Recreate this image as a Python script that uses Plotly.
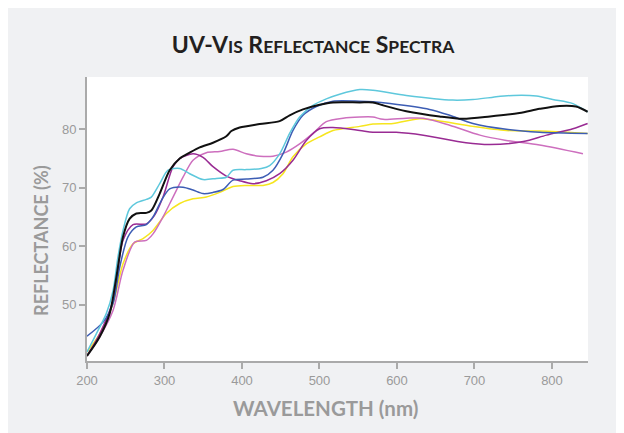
import plotly.graph_objects as go

# ---- data ----
cyan_wl = [200, 212, 225, 233.6, 240, 246.5, 255, 263.7, 276.6, 283, 293.8, 304.6, 319.6, 332.5, 349.7, 366.9,
           379.8, 388.4, 405.6, 425, 435.7, 448.6, 461.5, 474.4, 491.6, 508.8, 526, 552, 569, 612, 672, 698,
           724, 750, 780, 801, 827, 846]
cyan_r = [41.9, 45.0, 48.5, 52.4, 58.2, 62.7, 66.4, 67.4, 68.0, 68.4, 70.7, 73.0, 73.3, 72.4, 71.4, 71.6,
          71.8, 73.0, 73.1, 73.3, 73.8, 75.8, 79.3, 82.1, 84.1, 85.2, 86.0, 86.8, 86.7, 85.8, 85.0, 85.1,
          85.5, 85.8, 85.7, 85.1, 84.4, 83.0]

black_wl = [200, 216.4, 229.3, 237.9, 246.5, 255.1, 263.7, 276.6, 283, 293.8, 306.7, 319.6, 332.5, 345.4,
            362.6, 379.8, 386.3, 397, 422.8, 448.6, 461.5, 478.7, 500.2, 517.4, 552, 569, 582, 612, 655,
            685, 720, 758, 784, 810, 831, 846]
black_r = [41.2, 44.5, 48.5, 54.7, 61.6, 64.7, 65.6, 65.7, 66.1, 69.0, 73.0, 75.0, 76.0, 76.9,
           77.7, 78.8, 79.7, 80.3, 80.9, 81.4, 82.4, 83.4, 84.2, 84.6, 84.6, 84.6, 84.1, 83.1, 82.2,
           81.8, 82.2, 82.8, 83.5, 84.0, 83.9, 83.0]

blue_wl = [200, 220.7, 233.6, 242.2, 252.9, 263.7, 276.6, 285.2, 295.9, 306.7, 323.9, 336.8, 349.7, 362.6,
           375.5, 388.4, 405.6, 427.1, 440, 452.9, 465.8, 478.7, 495.9, 517.4, 552, 569, 591, 642, 668,
           698, 741, 784, 846]
blue_r = [44.6, 47.0, 50.2, 56.4, 61.6, 63.3, 63.7, 65.0, 67.8, 69.8, 70.1, 69.6, 69.0, 69.2,
          69.7, 71.3, 71.5, 71.8, 73.0, 75.8, 79.8, 82.4, 83.9, 84.8, 84.8, 84.7, 84.4, 83.4, 82.4,
          81.0, 80.0, 79.5, 79.3]

purple_wl = [200, 216.4, 233.6, 246.5, 259.4, 276.6, 287.3, 298.1, 311, 319.6, 336.8, 349.7, 362.6, 379.8,
             397, 414.2, 431.4, 448.6, 465.8, 483, 500.2, 517.4, 552, 569, 599, 634, 689, 720, 763, 793,
             827, 846]
purple_r = [41.2, 45.0, 50.7, 61.0, 63.7, 63.8, 65.3, 68.4, 73.6, 75.0, 75.8, 75.2, 73.6, 72.0,
            71.2, 70.7, 71.2, 72.4, 74.7, 78.1, 80.1, 80.3, 79.8, 79.5, 79.5, 79.0, 77.7, 77.4, 77.9, 79.0,
            80.1, 81.0]

pink_wl = [200, 216.4, 233.6, 246.5, 261.5, 276.6, 285.2, 298.1, 311, 323.9, 336.8, 354, 371.2, 388.4,
           405.6, 422.8, 440, 457.2, 474.4, 491.6, 508.8, 530.4, 552, 569, 582, 612, 634, 668, 707, 741,
           784, 840]
pink_r = [41.3, 44.5, 49.0, 55.9, 60.7, 61.0, 62.1, 65.0, 68.4, 71.8, 74.7, 76.0, 76.2, 76.6,
          75.8, 75.4, 75.4, 76.1, 77.5, 79.3, 81.3, 81.9, 82.1, 82.1, 81.7, 81.9, 81.9, 80.7, 79.0, 78.1,
          77.3, 75.8]

yellow_wl = [200, 216.4, 233.6, 246.5, 259.4, 272.3, 285.2, 302.4, 319.6, 336.8, 354, 371.2, 388.4, 405.6,
             427.1, 440, 452.9, 465.8, 483, 500.2, 517.4, 552, 569, 595, 629, 651, 698, 741, 784, 846]
yellow_r = [41.9, 45.0, 50.2, 57.0, 60.4, 61.3, 62.7, 65.6, 67.3, 68.1, 68.4, 69.2, 70.2, 70.4,
            70.4, 70.9, 72.4, 75.3, 77.5, 78.7, 79.8, 80.5, 80.9, 81.0, 81.8, 81.5, 80.5, 79.8, 79.7, 79.3]

x_ticks = [200, 300, 400, 500, 600, 700, 800]
y_ticks = [50, 60, 70, 80]

series = [
    ("yellow", yellow_wl, yellow_r, "#f6e51e", 1.5),
    ("pink", pink_wl, pink_r, "#cd6fbe", 1.5),
    ("purple", purple_wl, purple_r, "#992b93", 1.5),
    ("blue", blue_wl, blue_r, "#3d5db4", 1.5),
    ("cyan", cyan_wl, cyan_r, "#5ec8dc", 1.5),
    ("black", black_wl, black_r, "#111111", 2.0),
]

fig = go.Figure()
for name, xs, ys, col, w in series:
    fig.add_trace(go.Scatter(x=xs, y=ys, mode="lines", name=name,
                             line=dict(color=col, width=w, shape="spline", smoothing=0.8),
                             hoverinfo="x+y"))

axis_col = "#aaaaaa"
tick_font = dict(family="Liberation Sans, Arial, sans-serif", size=13, color="#9a9a9a")

fig.update_xaxes(range=[200, 846.5], tickvals=x_ticks, ticks="outside", ticklen=6, tickwidth=1.5,
                 tickcolor=axis_col, showline=True, linecolor=axis_col, linewidth=2, showgrid=False,
                 zeroline=False, tickfont=tick_font)
fig.update_yaxes(range=[40.35, 88.95], tickvals=y_ticks, ticks="outside", ticklen=6, tickwidth=1.5,
                 tickcolor=axis_col, showline=True, linecolor=axis_col, linewidth=2, showgrid=False,
                 zeroline=False, tickfont=tick_font)

title_font = "Lato, Open Sans, sans-serif"
sc = "<span style='font-size:17.5px'>{}</span>"
title_txt = "<b>UV-V" + sc.format("IS") + " R" + sc.format("EFLECTANCE") + " S" + sc.format("PECTRA") + "</b>"

fig.update_layout(
    width=624, height=433,
    margin=dict(l=79, r=44, t=69, b=80),
    paper_bgcolor="#f0f1f3",
    plot_bgcolor="white",
    showlegend=False,
    title=dict(text=title_txt, x=0.489, xanchor="center", y=1 - 37 / 433, yanchor="middle",
               font=dict(family=title_font, size=23, color="#231f20")),
    annotations=[
        dict(text="<b>WAVELENGTH (nm)</b>", xref="paper", yref="paper", x=0.4766, y=-0.165,
             xanchor="center", yanchor="middle", showarrow=False,
             font=dict(family=title_font, size=20.5, color="#9a9a9a")),
        dict(text="<b>REFLECTANCE (%)</b>", xref="paper", yref="paper", x=-0.0906, y=0.425,
             xanchor="center", yanchor="middle", showarrow=False, textangle=-90,
             font=dict(family=title_font, size=18, color="#9a9a9a")),
    ],
)

fig.write_html("out.html")
